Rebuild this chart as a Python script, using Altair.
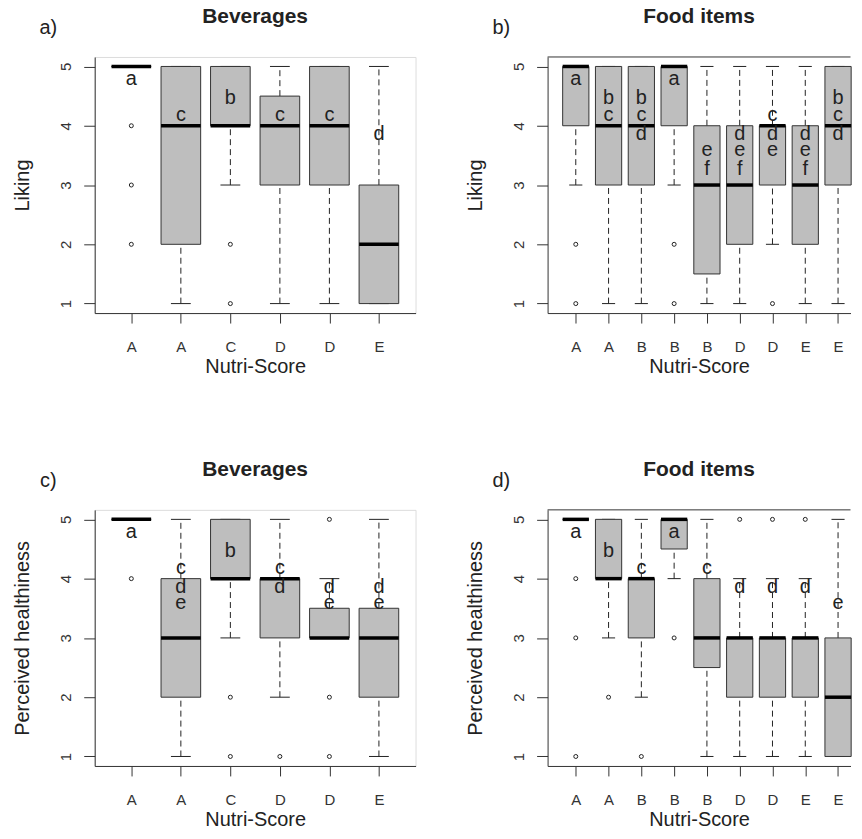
import json
import altair as alt
import pandas as pd

FONT = "Liberation Sans"
INK = "#222222"
AXC = "#333333"
BOXFILL = "#BEBEBE"

# ---------------- data ----------------
# a) Beverages - Liking
cats_a = ["A", "A", "C", "D", "D", "E"]
lo_a = [5, 1, 3, 1, 1, 1]
q1_a = [5, 2, 4, 3, 3, 1]
med_a = [5, 4, 4, 4, 4, 2]
q3_a = [5, 5, 5, 4.5, 5, 3]
hi_a = [5, 5, 5, 5, 5, 5]
out_i_a = [1, 1, 1, 3, 3]
out_v_a = [4, 3, 2, 2, 1]
let_a = ["a", "c", "b", "c", "c", "d"]

# b) Food items - Liking
cats_b = ["A", "A", "B", "B", "B", "D", "D", "E", "E"]
lo_b = [3, 1, 1, 3, 1, 1, 2, 1, 1]
q1_b = [4, 3, 3, 4, 1.5, 2, 3, 2, 3]
med_b = [5, 4, 4, 5, 3, 3, 4, 3, 4]
q3_b = [5, 5, 5, 5, 4, 4, 4, 4, 5]
hi_b = [5, 5, 5, 5, 5, 5, 5, 5, 5]
out_i_b = [1, 1, 4, 4, 7]
out_v_b = [2, 1, 2, 1, 1]
let_b = ["a", "bc", "bcd", "a", "ef", "def", "cde", "def", "bcd"]

# c) Beverages - Perceived healthiness
cats_c = ["A", "A", "C", "D", "D", "E"]
lo_c = [5, 1, 3, 2, 3, 1]
q1_c = [5, 2, 4, 3, 3, 2]
med_c = [5, 3, 4, 4, 3, 3]
q3_c = [5, 4, 5, 4, 3.5, 3.5]
hi_c = [5, 5, 5, 5, 4, 5]
out_i_c = [1, 3, 3, 4, 5, 5, 5]
out_v_c = [4, 2, 1, 1, 5, 2, 1]
let_c = ["a", "cde", "b", "cd", "de", "de"]

# d) Food items - Perceived healthiness
cats_d = ["A", "A", "B", "B", "B", "D", "D", "E", "E"]
lo_d = [5, 3, 2, 4, 1, 1, 1, 1, 1]
q1_d = [5, 4, 3, 4.5, 2.5, 2, 2, 2, 1]
med_d = [5, 4, 4, 5, 3, 3, 3, 3, 2]
q3_d = [5, 5, 4, 5, 4, 3, 3, 3, 3]
hi_d = [5, 5, 5, 5, 5, 4, 4, 4, 5]
out_i_d = [1, 1, 1, 2, 3, 4, 6, 7, 8]
out_v_d = [4, 3, 1, 2, 1, 3, 5, 5, 5]
let_d = ["a", "b", "c", "a", "c", "d", "d", "d", "e"]

# vertical level (Liking / healthiness units) of each significance letter
LETTER_Y = {"a": 4.78, "b": 4.46, "c": 4.18, "d": 3.86, "e": 3.59, "f": 3.27}

Y_DOMAIN = [0.84, 5.16]
H = 257


def panel(cats, lo, q1, med, q3, hi, out_i, out_v, lets, title, tag, ytitle,
          xdom, width, framed):
    n = len(cats)
    box = pd.DataFrame({"i": list(range(1, n + 1)), "lo": lo, "q1": q1,
                        "med": med, "q3": q3, "hi": hi})
    outs = pd.DataFrame({"i": out_i, "v": out_v})
    rows = [{"i": k + 1, "t": ch, "y": LETTER_Y[ch]}
            for k, s in enumerate(lets) for ch in s]
    letters = pd.DataFrame(rows)

    xsc = alt.Scale(domain=xdom, nice=False, zero=False)
    ysc = alt.Scale(domain=Y_DOMAIN, nice=False, zero=False)
    xax = alt.Axis(
        title="Nutri-Score", values=list(range(1, n + 1)),
        labelExpr=json.dumps(cats) + "[datum.value - 1]",
        grid=False, tickSize=10, tickColor=AXC, domainColor=AXC,
        labelFont=FONT, labelFontSize=15, labelColor=AXC,
        labelBaseline="alphabetic", labelPadding=29,
        labelOverlap=False, labelFlush=False,
        titleFont=FONT, titleFontSize=20, titleFontWeight="normal",
        titleColor=INK, titleX=width / 2, titleY=54,
        titleAlign="center", titleBaseline="middle")
    yax = alt.Axis(
        title=ytitle, values=[1, 2, 3, 4, 5], format="d",
        grid=False, tickSize=11, tickColor=AXC, domainColor=AXC,
        labelFont=FONT, labelFontSize=15, labelColor=AXC,
        labelAngle=270, labelAlign="center", labelBaseline="alphabetic",
        labelPadding=13, labelOverlap=False, labelFlush=False,
        titleFont=FONT, titleFontSize=20, titleFontWeight="normal",
        titleColor=INK, titleAngle=270, titleAlign="center",
        titleBaseline="middle", titleX=-72.5, titleY=H / 2)

    def X(f):
        return alt.X(f, type="quantitative", scale=xsc, axis=xax)

    def Y(f):
        return alt.Y(f, type="quantitative", scale=ysc, axis=yax)

    base = alt.Chart(box).transform_calculate(
        xl="datum.i - 0.4", xr="datum.i + 0.4",
        cl="datum.i - 0.2", cr="datum.i + 0.2")

    lower = base.mark_rule(color=INK, strokeDash=[6, 4], strokeWidth=1).encode(
        x=X("i"), y=Y("lo"), y2="q1:Q")
    upper = base.mark_rule(color=INK, strokeDash=[6, 4], strokeWidth=1).encode(
        x=X("i"), y=Y("q3"), y2="hi:Q")
    capl = base.mark_rule(color=INK, strokeWidth=1).encode(
        x=X("cl"), x2="cr:Q", y=Y("lo"))
    capu = base.mark_rule(color=INK, strokeWidth=1).encode(
        x=X("cl"), x2="cr:Q", y=Y("hi"))
    rect = base.mark_rect(fill=BOXFILL, stroke=AXC, strokeWidth=1).encode(
        x=X("xl"), x2="xr:Q", y=Y("q1"), y2="q3:Q")
    medl = base.mark_rule(color="black", strokeWidth=3.5).encode(
        x=X("xl"), x2="xr:Q", y=Y("med"))
    pts = alt.Chart(outs).mark_point(
        shape="circle", filled=False, size=16, color=INK, strokeWidth=1,
        opacity=1).encode(x=X("i"), y=Y("v"))
    txt = alt.Chart(letters).mark_text(
        font=FONT, fontSize=20, color=INK, baseline="middle",
        align="center").encode(x=X("i"), y=Y("y"), text="t:N")
    tagm = alt.Chart(pd.DataFrame({"t": [tag]})).mark_text(
        font=FONT, fontSize=20, color=INK, align="center",
        baseline="middle").encode(x=alt.value(-46.5), y=alt.value(-29),
                                  text="t:N")
    layers = [lower, upper, capl, capu, rect, medl, pts, txt, tagm]
    if not framed:
        top = alt.Chart(pd.DataFrame({"k": [0]})).mark_rule(
            color=AXC, strokeWidth=1).encode(
            x=alt.value(0), x2=alt.value(width), y=alt.value(0))
        layers.append(top)
    ch = alt.layer(*layers).properties(
        width=width, height=H,
        title=alt.TitleParams(
            text=title, font=FONT, fontSize=21, fontWeight="bold",
            color=INK, anchor="middle", frame="group",
            baseline="middle", offset=-20))
    if not framed:
        ch = ch.properties(view=alt.ViewBackground(stroke="transparent"))
    return ch


W_A = 322
W_B = 304
DOM_A = [0.26, 6.74]
DOM_B = [0.14, 0.14 + W_B / 32.9]

pa = panel(cats_a, lo_a, q1_a, med_a, q3_a, hi_a, out_i_a, out_v_a, let_a,
           "Beverages", "a)", "Liking", DOM_A, W_A, True)
pb = panel(cats_b, lo_b, q1_b, med_b, q3_b, hi_b, out_i_b, out_v_b, let_b,
           "Food items", "b)", "Liking", DOM_B, W_B, False)
pc = panel(cats_c, lo_c, q1_c, med_c, q3_c, hi_c, out_i_c, out_v_c, let_c,
           "Beverages", "c)", "Perceived healthiness", DOM_A, W_A, True)
pd_ = panel(cats_d, lo_d, q1_d, med_d, q3_d, hi_d, out_i_d, out_v_d, let_d,
            "Food items", "d)", "Perceived healthiness", DOM_B, W_B, False)

row1 = alt.hconcat(pa, pb, spacing=48.5)
row2 = alt.hconcat(pc, pd_, spacing=48.5)

chart = alt.vconcat(row1, row2, spacing=80.5).properties(
    padding={"left": 4, "top": -4.3, "right": 0, "bottom": 0},
    background="white",
).configure_view(stroke=AXC, strokeWidth=1).configure(font=FONT)

chart.save("out.html", embed_options={"renderer": "svg", "actions": False})
